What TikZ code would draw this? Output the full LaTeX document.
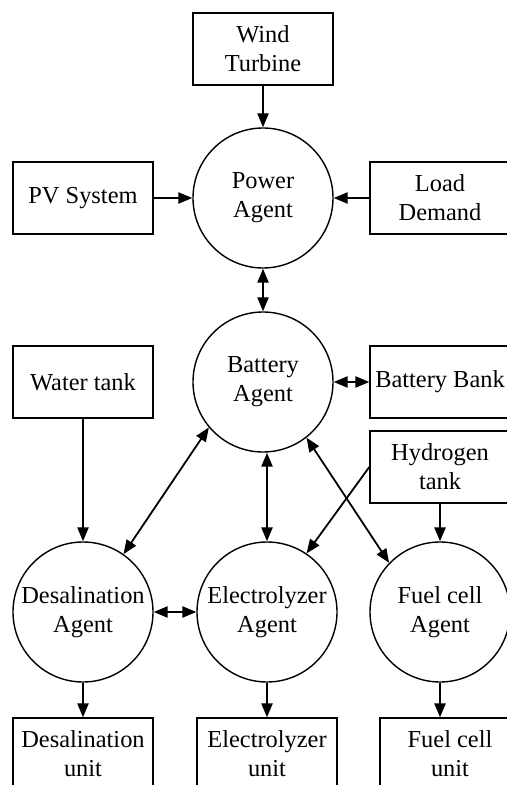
\documentclass[tikz,border=0pt]{standalone}
\usepackage{fontspec}
\setmainfont{Liberation Serif}
\usepackage{tikz}
\usetikzlibrary{arrows.meta,positioning,calc}

\begin{document}
\begin{tikzpicture}[x=0.5pt,y=-0.5pt,
        every node/.style={font=\fontsize{12.2}{14.5}\selectfont,align=center,inner sep=0pt},
        unitbox/.style={draw,line width=0.7pt,minimum width=70pt,minimum height=36pt},
        agent/.style={draw,circle,line width=0.7pt,minimum size=70pt},
        flow/.style={line width=0.9pt,-{Triangle[length=7pt,width=5.6pt]}},
        link/.style={line width=0.9pt,{Triangle[length=7pt,width=5.6pt]}-{Triangle[length=7pt,width=5.6pt]}}]
        \useasboundingbox (0,0) rectangle (507,785);
        % sources and storage
        \node[unitbox] (wind) at (263,49) {Wind\\Turbine};
        \node[unitbox] (pv) at (83,198) {PV System};
        \node[unitbox] (load) at (440,198) {Load\\Demand};
        \node[unitbox] (water) at (83,382) {Water tank};
        \node[unitbox] (bank) at (440,382) {Battery Bank};
        \node[unitbox] (hydrogen) at (440,467) {Hydrogen\\tank};
        % agents
        \node[agent] (power) at (263,198) {Power\\Agent};
        \node[agent] (battery) at (263,382) {Battery\\Agent};
        \node[agent] (desal) at (83,612) {Desalination\\Agent};
        \node[agent] (electro) at (267,612) {Electrolyzer\\Agent};
        \node[agent] (fuel) at (440,612) {Fuel cell\\Agent};
        % units
        \node[unitbox] (desalunit) at (83,754) {Desalination\\unit};
        \node[unitbox] (electrounit) at (267,754) {Electrolyzer\\unit};
        \node[unitbox] (fuelunit) at (450,754) {Fuel cell\\unit};
        % connectors
        \draw[flow] (wind.south) -- (power.north);
        \draw[flow] (pv.east) -- (power.west);
        \draw[flow] (load.west) -- (power.east);
        \draw[link] (power.south) -- (battery.north);
        \draw[link] (battery.east) -- (bank.west);
        \draw[flow] (water.south) -- (desal.north);
        \draw[link] (desal.55) -- (battery.220);
        \draw[link] (electro.north) -- (electro.north |- battery.south);
        \draw[link] (battery.308) -- (fuel.136);
        \draw[flow] (hydrogen.west) -- (electro.56);
        \draw[flow] (hydrogen.south) -- (fuel.north);
        \draw[link] (desal.east) -- (electro.west);
        \draw[flow] (desal.south) -- (desalunit.north);
        \draw[flow] (electro.south) -- (electrounit.north);
        \draw[flow] (fuel.south) -- (fuel.south |- fuelunit.north);
\end{tikzpicture}
\end{document}
